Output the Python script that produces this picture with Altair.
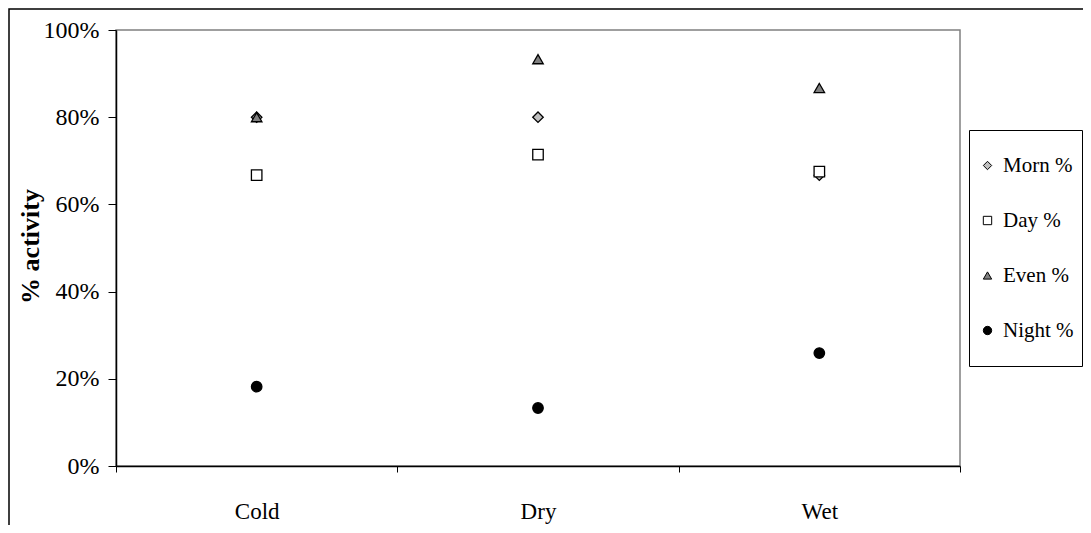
import altair as alt
import pandas as pd

categories = ["Cold", "Dry", "Wet"]
series = ["Morn %", "Day %", "Even %", "Night %"]
morn = [0.80, 0.80, 0.667]
day = [0.667, 0.714, 0.675]
even = [0.80, 0.933, 0.867]
night = [0.182, 0.133, 0.259]

rows = []
for s, vals in zip(series, [morn, day, even, night]):
    for c, v in zip(categories, vals):
        rows.append({"Season": c, "Series": s, "Value": v})
df = pd.DataFrame(rows)

FONT = "Liberation Serif"
W, H = 844, 436

frame = alt.Chart(pd.DataFrame({"a": [0]})).mark_rect(
    fillOpacity=0, fill="white", stroke="black", strokeWidth=1.5, clip=False
).encode(
    x=alt.value(-107), x2=alt.value(1200), y=alt.value(-21), y2=alt.value(700)
)

points = alt.Chart(df).mark_point(
    filled=True, strokeWidth=1.3, size=110, opacity=1
).encode(
    x=alt.X("Season:N", sort=categories, title=None,
            scale=alt.Scale(paddingInner=0, paddingOuter=0),
            axis=alt.Axis(labelAngle=0, tickBand="extent", labelPadding=28,
                          tickSize=6, domainColor="black", tickColor="black",
                          domainWidth=1.5, labelFont=FONT, labelFontSize=23,
                          labelColor="black")),
    y=alt.Y("Value:Q", title="% activity",
            scale=alt.Scale(domain=[0, 1], nice=False),
            axis=alt.Axis(format=".0%", values=[0, 0.2, 0.4, 0.6, 0.8, 1.0],
                          grid=False, tickSize=8, labelPadding=9,
                          domainColor="black", tickColor="black", domainWidth=1.5,
                          labelFont=FONT, labelFontSize=24, labelColor="black",
                          titleFont=FONT, titleFontSize=26, titleFontWeight="bold",
                          titleColor="black", titleX=-73, titleY=216,
                          titleAlign="center", titleBaseline="bottom")),
    shape=alt.Shape("Series:N", sort=series,
                    scale=alt.Scale(domain=series,
                                    range=["diamond", "square", "triangle-up", "circle"]),
                    legend=alt.Legend(title=None)),
    fill=alt.Fill("Series:N", sort=series,
                  scale=alt.Scale(domain=series,
                                  range=["#c0c0c0", "#ffffff", "#808080", "#000000"]),
                  legend=alt.Legend(title=None)),
    stroke=alt.Stroke("Series:N", sort=series,
                      scale=alt.Scale(domain=series,
                                      range=["#000000", "#000000", "#000000", "#000000"]),
                      legend=alt.Legend(title=None)),
    order=alt.Order("ord:Q"),
).transform_calculate(
    ord="indexof(['Morn %','Day %','Even %','Night %'], datum.Series)"
)

chart = alt.layer(frame, points).properties(
    width=W, height=H,
    autosize=alt.AutoSizeParams(type="none"),
    padding={"left": 108, "top": 22, "right": 123, "bottom": 59},
).configure_view(
    stroke="#808080", strokeWidth=1.5
).configure_legend(
    orient="none", legendX=853, legendY=100,
    strokeColor="black", fillColor="white", padding=8, rowPadding=0,
    clipHeight=55,
    labelFont=FONT, labelFontSize=21, labelColor="black",
    symbolSize=70, symbolStrokeWidth=1,
    labelOffset=5, labelLimit=200,
)

chart.save("out.html", embed_options={"renderer": "svg", "actions": False})
